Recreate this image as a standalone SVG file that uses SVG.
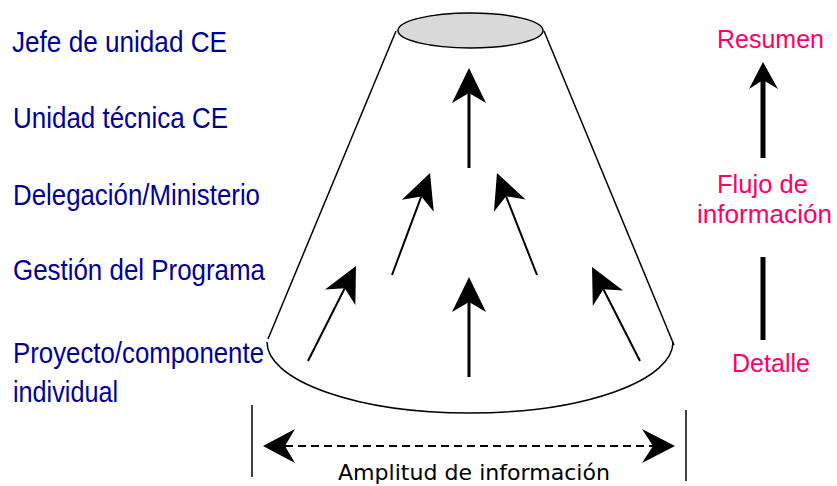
<svg xmlns="http://www.w3.org/2000/svg" width="837" height="486" viewBox="0 0 837 486">
<style>
.lvl{font-family:"Liberation Sans",Arial,sans-serif;font-size:29px;fill:#000099}
.flow{font-family:"Liberation Sans",Arial,sans-serif;font-size:26px;fill:#FF0066}
.amp{font-family:"DejaVu Sans",Verdana,sans-serif;font-size:21px;fill:#000}
.edge{fill:none;stroke:#000;stroke-width:1.5}
.arr{fill:none;stroke:#000;stroke-width:2}
.arr3{fill:none;stroke:#000;stroke-width:3}
</style>
<defs>
<marker id="ah" viewBox="-36 -18 37 36" markerWidth="37" markerHeight="36" refX="-25" refY="0" orient="auto" markerUnits="userSpaceOnUse">
<path d="M0,0 L-35,-17 L-25,0 L-35,17 Z" fill="#000"/>
</marker>
</defs>
<rect width="837" height="486" fill="#fff"/>
<g id="cone">
<path class="edge" d="M396,31 L268,339"/>
<path class="edge" d="M544,31 L674,345"/>
<path class="edge" d="M267,342 A203,71 0 0 0 673,342"/>
<ellipse cx="470.5" cy="30.5" rx="72.5" ry="17.5" fill="#d9d9d9" stroke="#000" stroke-width="1.5"/>
</g>
<g id="levels">
<text class="lvl" x="12" y="52" textLength="215" lengthAdjust="spacingAndGlyphs">Jefe de unidad CE</text>
<text class="lvl" x="13" y="128" textLength="215" lengthAdjust="spacingAndGlyphs">Unidad técnica CE</text>
<text class="lvl" x="13" y="205" textLength="247" lengthAdjust="spacingAndGlyphs">Delegación/Ministerio</text>
<text class="lvl" x="13" y="280" textLength="252" lengthAdjust="spacingAndGlyphs">Gestión del Programa</text>
<text class="lvl" x="13" y="363" textLength="251" lengthAdjust="spacingAndGlyphs">Proyecto/componente</text>
<text class="lvl" x="13" y="402" textLength="105" lengthAdjust="spacingAndGlyphs">individual</text>
</g>
<g id="connectors">
<line class="arr3" x1="469" y1="168" x2="469" y2="93" marker-end="url(#ah)"/>
<line class="arr" x1="392" y1="275" x2="421.3" y2="196.4" marker-end="url(#ah)"/>
<line class="arr" x1="537" y1="275" x2="506.1" y2="196.3" marker-end="url(#ah)"/>
<line class="arr" x1="308" y1="361" x2="344.7" y2="288.3" marker-end="url(#ah)"/>
<line class="arr3" x1="469" y1="377" x2="469" y2="302" marker-end="url(#ah)"/>
<line class="arr" x1="640" y1="361" x2="603.4" y2="289.3" marker-end="url(#ah)"/>
</g>
<g id="flow">
<line x1="763" y1="158" x2="763" y2="80" stroke="#000" stroke-width="5"/>
<path d="M763,62 L749,89 L763,80 L778,89 Z" fill="#000"/>
<line x1="763" y1="257" x2="763" y2="340" stroke="#000" stroke-width="5"/>
<text class="flow" x="717" y="48" textLength="107" lengthAdjust="spacingAndGlyphs">Resumen</text>
<text class="flow" x="717" y="193" textLength="91" lengthAdjust="spacingAndGlyphs">Flujo de</text>
<text class="flow" x="697" y="223" textLength="135" lengthAdjust="spacingAndGlyphs">información</text>
<text class="flow" x="732" y="372" textLength="78" lengthAdjust="spacingAndGlyphs">Detalle</text>
</g>
<g id="amplitude">
<line x1="252" y1="405" x2="252" y2="477" stroke="#000" stroke-width="1.5"/>
<line x1="686" y1="410" x2="686" y2="481" stroke="#000" stroke-width="1.5"/>
<line x1="285" y1="446" x2="653" y2="446" stroke="#000" stroke-width="2" stroke-dasharray="8,5"/>
<path d="M263,446 L295,429 L285,446 L295,463 Z" fill="#000"/>
<path d="M675,446 L642,429 L653,446 L642,463 Z" fill="#000"/>
<text class="amp" x="338" y="480" textLength="272" lengthAdjust="spacingAndGlyphs">Amplitud de información</text>
</g>
</svg>
